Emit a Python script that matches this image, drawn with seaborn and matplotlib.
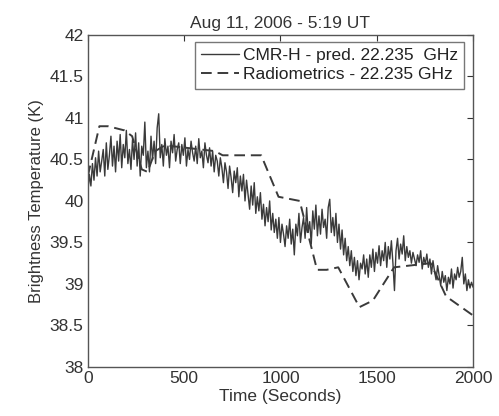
import numpy as np
import pandas as pd
import matplotlib
matplotlib.use("Agg")
import matplotlib.pyplot as plt
import seaborn as sns

# CMR-H predicted brightness temperature, sampled every 8 s from 0 to 2000 s
cmr_step = 8
cmr_values = [
    40.10, 40.32, 40.18, 40.45, 40.25, 40.52, 40.30, 40.60, 40.35, 40.48,
    40.62, 40.30, 40.70, 40.38, 40.55, 40.78, 40.42, 40.66, 40.35, 40.72,
    40.48, 40.80, 40.40, 40.68, 40.52, 40.85, 40.45, 40.62, 40.38, 40.74,
    40.50, 40.82, 40.42, 40.70, 40.30, 40.66, 40.55, 40.95, 40.40, 40.60,
    40.35, 40.78, 40.50, 40.72, 40.45, 40.88, 41.05, 40.52, 40.68, 40.42,
    40.75, 40.55, 40.66, 40.40, 40.72, 40.58, 40.80, 40.48, 40.62, 40.70,
    40.45, 40.68, 40.55, 40.76, 40.42, 40.62, 40.50, 40.72, 40.58, 40.48,
    40.66, 40.45, 40.75, 40.52, 40.60, 40.40, 40.70, 40.55, 40.46, 40.64,
    40.42, 40.60, 40.35, 40.55, 40.48, 40.30, 40.52, 40.40, 40.22, 40.46,
    40.35, 40.15, 40.42, 40.28, 40.10, 40.36, 40.22, 40.40, 40.05, 40.30,
    40.12, 40.32, 40.00, 40.25, 40.08, 39.90, 40.18, 39.95, 40.22, 39.85,
    40.05, 39.88, 40.10, 39.78, 39.96, 39.70, 39.92, 39.75, 40.00, 39.65,
    39.85, 39.62, 39.78, 39.55, 39.80, 39.50, 39.72, 39.60, 39.45, 39.70,
    39.55, 39.78, 39.48, 39.66, 39.35, 39.72, 39.58, 39.85, 39.50, 39.68,
    39.80, 39.55, 39.92, 39.62, 39.75, 39.48, 39.88, 39.66, 39.95, 39.58,
    39.82, 39.60, 39.90, 39.68, 39.78, 39.55, 39.92, 40.02, 39.62, 39.80,
    39.58, 39.85, 39.50, 39.72, 39.42, 39.65, 39.35, 39.55, 39.28, 39.45,
    39.22, 39.40, 39.15, 39.32, 39.10, 39.28, 39.05, 39.25, 39.18, 39.35,
    39.12, 39.30, 39.08, 39.35, 39.20, 39.42, 39.15, 39.38, 39.25, 39.46,
    39.22, 39.40, 39.28, 39.50, 39.20, 39.45, 39.30, 39.52, 39.25, 38.92,
    39.40, 39.55, 39.30, 39.48, 39.36, 39.58, 39.28, 39.45, 39.32, 39.40,
    39.25, 39.38, 39.30, 39.22, 39.35, 39.26, 39.40, 39.18, 39.32, 39.24,
    39.36, 39.20, 39.30, 39.12, 39.28, 39.15, 39.05, 39.22, 39.10, 38.98,
    39.15, 39.02, 39.10, 38.92, 39.08, 39.00, 39.18, 38.95, 39.12, 39.05,
    39.20, 39.08, 39.15, 39.32, 39.00, 39.12, 38.92, 39.05, 38.95, 39.02,
    38.96,
]
cmr_time = [i * cmr_step for i in range(len(cmr_values))]

# Radiometrics measurements
rad_time = [0, 60, 105, 190, 230, 280, 310, 350, 400, 660, 700, 900, 990,
            1100, 1190, 1240, 1300, 1410, 1480, 1590, 1780, 1860, 2000]
rad_values = [40.30, 40.90, 40.90, 40.85, 40.78, 40.38, 40.35, 40.60, 40.67,
              40.60, 40.55, 40.55, 40.05, 40.00, 39.17, 39.17, 39.20, 38.72,
              38.80, 39.20, 39.25, 38.85, 38.62]

labels = ["CMR-H - pred. 22.235  GHz", "Radiometrics - 22.235 GHz"]
title = "Aug 11, 2006 - 5:19 UT"
xticks = [0, 500, 1000, 1500, 2000]
yticks = [38, 38.5, 39, 39.5, 40, 40.5, 41, 41.5, 42]

df = pd.concat([
    pd.DataFrame({"Time": cmr_time, "Tb": cmr_values, "Series": labels[0]}),
    pd.DataFrame({"Time": rad_time, "Tb": rad_values, "Series": labels[1]}),
])

sns.set_theme(style="white")
plt.rcParams["font.family"] = ["Liberation Sans", "DejaVu Sans"]

fig = plt.figure(figsize=(4.99, 4.16), dpi=100)
ax = fig.add_axes([0.176, 0.118, 0.772, 0.798])

sns.lineplot(data=df, x="Time", y="Tb", hue="Series", style="Series",
             size="Series", sizes={labels[0]: 1.0, labels[1]: 1.4},
             palette={labels[0]: "#3a3a3a", labels[1]: "#3a3a3a"},
             dashes={labels[0]: "", labels[1]: (5.5, 3)},
             ax=ax, sort=False, estimator=None, legend=False)

ax.set_xlim(0, 2000)
ax.set_ylim(38, 42)
ax.set_xticks(xticks)
ax.set_xticklabels([str(v) for v in xticks])
ax.set_yticks(yticks)
ax.set_yticklabels([f"{v:g}" for v in yticks])
ax.tick_params(direction="in", length=4, width=0.8, top=True, right=True,
               labelsize=12.5, colors="#333333", pad=3)
for s in ax.spines.values():
    s.set_color("#555555")
    s.set_linewidth(1.0)
ax.set_xlabel("Time (Seconds)", fontsize=12.5, color="#333333", labelpad=2)
ax.set_ylabel("Brightness Temperature (K)", fontsize=12, color="#333333", labelpad=4)
ax.set_title(title, fontsize=12.5, color="#333333", pad=5)

handles = [ax.lines[0], ax.lines[1]]
leg = ax.legend(handles=handles, labels=labels, loc="upper right",
                bbox_to_anchor=(0.985, 0.99), fontsize=12.5, frameon=True,
                fancybox=False, borderpad=0.35, handlelength=2.2,
                handletextpad=0.2, labelspacing=0.25, borderaxespad=0.2)
leg.get_frame().set_edgecolor("#555555")
leg.get_frame().set_linewidth(1.0)
for t in leg.get_texts():
    t.set_color("#222222")

fig.savefig("out.png", dpi=100, facecolor="white")
